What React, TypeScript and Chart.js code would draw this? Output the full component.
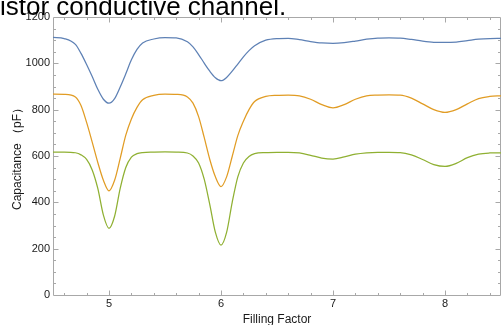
import React, { useEffect, useRef } from "react";
import { Chart, registerables } from "chart.js";

Chart.register(...registerables);

const fillingFactor = [
  4.5, 4.6, 4.7, 4.75, 4.8, 4.85, 4.9, 4.95, 5.0, 5.05, 5.1, 5.15, 5.2, 5.25, 5.3, 5.4, 5.5,
  5.6, 5.7, 5.75, 5.8, 5.85, 5.9, 5.95, 6.0, 6.05, 6.1, 6.15, 6.2, 6.25, 6.3, 6.4, 6.5,
  6.6, 6.7, 6.8, 6.9, 7.0, 7.1, 7.2, 7.3, 7.4, 7.5, 7.6, 7.7, 7.8, 7.9, 8.0, 8.1, 8.2, 8.3, 8.4, 8.5,
];

const capBlue = [
  1112, 1107, 1082, 1043, 995, 943, 888, 845, 828, 848, 898, 955, 1015, 1060, 1088, 1105, 1111,
  1110, 1093, 1071, 1038, 1001, 966, 938, 925, 939, 966, 997, 1028, 1055, 1076, 1100, 1107,
  1108, 1102, 1094, 1088, 1086, 1089, 1096, 1104, 1109, 1110, 1109, 1103, 1096, 1091, 1090, 1092, 1098, 1104, 1107, 1108,
];

const capOrange = [
  867, 866, 855, 818, 745, 660, 572, 495, 450, 495, 590, 690, 760, 810, 843, 862, 867,
  866, 855, 828, 770, 680, 585, 510, 468, 510, 598, 688, 750, 800, 835, 857, 862,
  863, 860, 845, 822, 808, 822, 845, 860, 863, 864, 863, 850, 825, 800, 788, 800, 825, 848, 857, 860,
];

const capGreen = [
  617, 617, 614, 605, 585, 540, 460, 345, 288, 340, 460, 550, 595, 610, 615, 617, 618,
  617, 613, 600, 570, 500, 390, 270, 215, 270, 400, 510, 570, 598, 610, 615, 616,
  616, 613, 603, 591, 587, 596, 608, 614, 616, 616, 615, 605, 585, 563, 555, 568, 593, 608, 613, 614,
];

const xTickValues = [5, 6, 7, 8];
const yTickValues = [0, 200, 400, 600, 800, 1000, 1200];

const FONT = "'Liberation Sans', Arial, sans-serif";
const LABEL_COLOR = "#1a1a1a";
const FRAME_COLOR = "#a8a8a8";

const framePlugin = {
  id: "mmaFrame",
  beforeDatasetsDraw(chart: any) {
    const { ctx, chartArea, scales } = chart;
    const { left, right, top, bottom } = chartArea;
    const xs = scales.x;
    const ys = scales.y;
    ctx.save();
    ctx.strokeStyle = FRAME_COLOR;
    ctx.lineWidth = 1;
    ctx.beginPath();
    ctx.rect(left + 0.5, top + 0.5, right - left - 1, bottom - top);
    ctx.stroke();

    const major = 5;
    const minor = 2.5;
    ctx.beginPath();
    for (let i = 23; i <= 42; i++) {
      const v = i / 5;
      const isMajor = Math.abs(v - Math.round(v)) < 1e-9;
      const len = isMajor ? major : minor;
      const px = Math.round(xs.getPixelForValue(v)) + 0.5;
      ctx.moveTo(px, bottom + 0.5);
      ctx.lineTo(px, bottom + 0.5 - len);
      ctx.moveTo(px, top + 0.5);
      ctx.lineTo(px, top + 0.5 + len);
    }
    for (let k = 1; k < 24; k++) {
      const v = k * 50;
      const isMajor = v % 200 === 0;
      const len = isMajor ? major : minor;
      const py = Math.round(ys.getPixelForValue(v)) + 0.5;
      ctx.moveTo(left + 0.5, py);
      ctx.lineTo(left + 0.5 + len, py);
      ctx.moveTo(right - 0.5, py);
      ctx.lineTo(right - 0.5 - len, py);
    }
    ctx.stroke();
    ctx.restore();
  },
};

function makeSeries(values: number[]) {
  return fillingFactor.map((x, i) => ({ x, y: values[i] }));
}

export default function App() {
  const canvasRef = useRef<HTMLCanvasElement | null>(null);

  useEffect(() => {
    const canvas = canvasRef.current;
    if (!canvas) return;
    const chart = new Chart(canvas, {
      type: "line",
      data: {
        datasets: [
          { data: makeSeries(capBlue), borderColor: "#5E81B5" },
          { data: makeSeries(capOrange), borderColor: "#E19C24" },
          { data: makeSeries(capGreen), borderColor: "#8FB032" },
        ],
      },
      options: {
        animation: false,
        responsive: false,
        maintainAspectRatio: false,
        parsing: false,
        layout: { padding: { top: 17, right: 0, bottom: 0, left: 0 } },
        plugins: { legend: { display: false }, tooltip: { enabled: false } },
        elements: {
          point: { radius: 0 },
          line: { borderWidth: 1.25, cubicInterpolationMode: "monotone", fill: false },
        },
        scales: {
          x: {
            type: "linear",
            min: 4.5,
            max: 8.5,
            afterFit: (s: any) => {
              s.height = 30;
            },
            afterBuildTicks: (s: any) => {
              s.ticks = xTickValues.map((v) => ({ value: v }));
            },
            grid: { display: false, drawTicks: false },
            border: { display: false },
            ticks: {
              padding: 2,
              autoSkip: false,
              maxRotation: 0,
              color: LABEL_COLOR,
              font: { family: FONT, size: 11 },
              callback: (v: any) => String(v),
            },
            title: {
              display: true,
              text: "Filling Factor",
              color: LABEL_COLOR,
              font: { family: FONT, size: 12, lineHeight: 1 },
              padding: { top: 0, bottom: -1 },
            },
          },
          y: {
            type: "linear",
            min: 0,
            max: 1200,
            afterFit: (s: any) => {
              s.width = 53;
            },
            afterBuildTicks: (s: any) => {
              s.ticks = yTickValues.map((v) => ({ value: v }));
            },
            grid: { display: false, drawTicks: false },
            border: { display: false },
            ticks: {
              padding: 3,
              autoSkip: false,
              color: LABEL_COLOR,
              font: { family: FONT, size: 11 },
              callback: (v: any) => String(v),
            },
            title: {
              display: true,
              text: "Capacitance （pF）",
              color: LABEL_COLOR,
              font: { family: FONT, size: 12, lineHeight: 1.2 },
              padding: { top: 10, bottom: 0 },
            },
          },
        },
      },
      plugins: [framePlugin],
    } as any);
    return () => chart.destroy();
  }, []);

  return (
    <div style={{ position: "fixed", left: 0, top: 0, width: 501, height: 325, overflow: "hidden", background: "#fff" }}>
      <canvas
        ref={canvasRef}
        width={501}
        height={325}
        style={{ position: "absolute", left: 0, top: 0, width: 501, height: 325 }}
      />
      <div
        style={{
          position: "absolute",
          left: 0,
          top: -7,
          fontFamily: FONT,
          fontSize: 26,
          lineHeight: "26px",
          whiteSpace: "nowrap",
          color: "#000",
        }}
      >
        istor conductive channel.
      </div>
    </div>
  );
}
